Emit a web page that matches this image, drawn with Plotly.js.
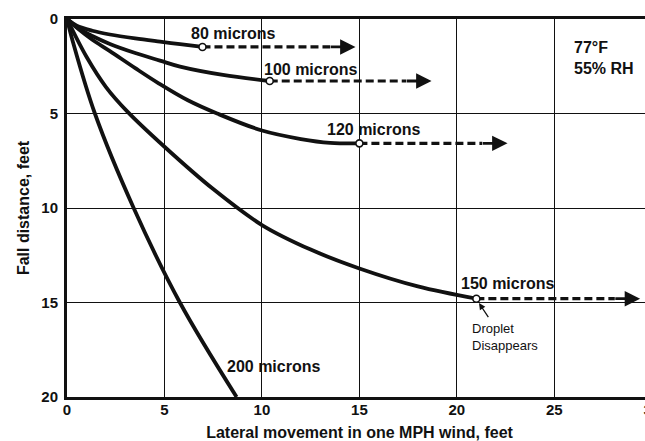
<!DOCTYPE html>
<html><head><meta charset="utf-8">
<script src="https://cdn.plot.ly/plotly-3.0.1.min.js"></script>
<style>html,body{margin:0;padding:0;overflow:hidden;background:#fff;width:645px;height:441px}</style>
</head><body><div id="chart" style="width:660px;height:441px"></div>
<script>
// Lateral movement (ft) vs fall distance (ft) for each droplet size
const x80  = [0, 0.5, 1.3, 2.2, 3.5, 4.77, 5.8, 6.95];
const y80  = [0, 0.35, 0.62, 0.82, 1.03, 1.2, 1.33, 1.48];
const x100 = [0, 0.6, 1.3, 2.2, 3.5, 4.77, 5.8, 8, 10.4];
const y100 = [0, 0.5, 0.9, 1.32, 1.8, 2.2, 2.52, 2.96, 3.28];
const x120 = [0, 0.6, 1.3, 2.2, 3.5, 4.7, 6.2, 7.7, 10, 12, 13.5, 15];
const y120 = [0, 0.55, 1.1, 1.7, 2.6, 3.4, 4.3, 5, 5.9, 6.35, 6.55, 6.58];
const x150 = [0, 1, 2, 3.1, 5, 7.5, 10, 12.5, 15, 18, 21];
const y150 = [0, 2.0, 3.6, 4.9, 6.76, 9.0, 10.9, 12.2, 13.2, 14.15, 14.8];
const x200 = [0, 0.3, 1.43, 3.42, 5.79, 8.7];
const y200 = [0, 1.2, 5, 10, 15, 20];

// where the drift (dashed) arrows end, for 80, 100, 120, 150 microns
const arrowEnd = [14.8, 18.7, 22.6, 29.4];

const labels = ['80 microns', '100 microns', '120 microns', '150 microns', '200 microns'];
const labelX = [8.56, 12.5, 15.7, 22.6, 10.6];
const labelY = [0.79, 2.65, 5.87, 13.97, 18.4];

const xTicks = [0, 5, 10, 15, 20, 25, 30];
const yTicks = [0, 5, 10, 15, 20];

const FONT = '"Liberation Sans", Arial, Helvetica, sans-serif';
const INK = '#111';

const curvesX = [x80, x100, x120, x150, x200];
const curvesY = [y80, y100, y120, y150, y200];

const traces = [];
curvesX.forEach((xs, i) => {
  traces.push({
    x: xs, y: curvesY[i], type: 'scatter', mode: 'lines',
    line: {color: INK, width: 3.8, shape: 'spline', smoothing: 1},
    hoverinfo: 'skip', showlegend: false
  });
});

const annotations = [];
const headLen = 1.3;
arrowEnd.forEach((xe, i) => {
  const xs = curvesX[i], ys = curvesY[i];
  const xc = xs[xs.length - 1], yc = ys[ys.length - 1];
  traces.push({
    x: [xc, xe - headLen], y: [yc, yc], type: 'scatter', mode: 'lines',
    line: {color: INK, width: 3.2, dash: '8px,4px'},
    hoverinfo: 'skip', showlegend: false
  });
  annotations.push({
    x: xe, y: yc, ax: xe - headLen - 0.05, ay: yc,
    xref: 'x', yref: 'y', axref: 'x', ayref: 'y',
    text: '', showarrow: true, arrowhead: 2, arrowsize: 1.1,
    arrowwidth: 2.8, arrowcolor: INK, standoff: 0, startstandoff: 0
  });
});

// open circles where the droplet evaporates
traces.push({
  x: [0, 1, 2, 3].map(i => curvesX[i][curvesX[i].length - 1]),
  y: [0, 1, 2, 3].map(i => curvesY[i][curvesY[i].length - 1]),
  type: 'scatter', mode: 'markers',
  marker: {size: 7, color: '#fff', line: {color: INK, width: 1.6}},
  hoverinfo: 'skip', showlegend: false
});

labels.forEach((t, i) => {
  annotations.push({
    x: labelX[i], y: labelY[i], xref: 'x', yref: 'y', text: t,
    showarrow: false, font: {family: FONT, size: 16, color: INK, weight: 'bold'}
  });
});

annotations.push({
  x: 25.9, y: 1.53, xref: 'x', yref: 'y', text: '77°F', xanchor: 'left',
  showarrow: false, font: {family: FONT, size: 16, color: INK, weight: 'bold'}
});
annotations.push({
  x: 25.9, y: 2.6, xref: 'x', yref: 'y', text: '55% RH', xanchor: 'left',
  showarrow: false, font: {family: FONT, size: 16, color: INK, weight: 'bold'}
});
annotations.push({
  x: 20.67, y: 16.8, xref: 'x', yref: 'y', text: 'Droplet<br>Disappears', xanchor: 'left',
  align: 'left', showarrow: false, font: {family: FONT, size: 13, color: INK}
});
// pointer to the 150 micron circle
annotations.push({
  x: x150[x150.length - 1] + 0.05, y: y150[y150.length - 1] + 0.1, xref: 'x', yref: 'y',
  ax: 12, ay: 18, text: '', showarrow: true, arrowhead: 2, arrowsize: 1,
  arrowwidth: 1.3, arrowcolor: INK, standoff: 3
});

const layout = {
  width: 660, height: 441,
  margin: {l: 67, r: 8, t: 19, b: 44},
  paper_bgcolor: '#fff', plot_bgcolor: '#fff',
  font: {family: FONT, color: INK},
  showlegend: false,
  xaxis: {
    range: [0, 30.01], tickvals: xTicks, ticktext: xTicks.map(String),
    showgrid: true, gridcolor: INK, gridwidth: 1,
    zeroline: false, showline: true, linecolor: INK, linewidth: 3, mirror: true,
    ticks: '', ticklabelstandoff: -3, ticklabeloverflow: 'allow',
    tickfont: {family: FONT, size: 15, color: INK, weight: 'bold'},
    title: {text: 'Lateral movement in one MPH wind, feet', standoff: 13,
            font: {family: FONT, size: 16, color: INK, weight: 'bold'}},
    fixedrange: true
  },
  yaxis: {
    range: [20, 0], tickvals: yTicks, ticktext: yTicks.map(String),
    showgrid: true, gridcolor: INK, gridwidth: 1,
    zeroline: false, showline: true, linecolor: INK, linewidth: 3,
    ticks: '', ticklabelstandoff: 3,
    tickfont: {family: FONT, size: 15, color: INK, weight: 'bold'},
    title: {text: 'Fall distance, feet', standoff: 8,
            font: {family: FONT, size: 16, color: INK, weight: 'bold'}},
    fixedrange: true
  },
  annotations: annotations
};

Plotly.newPlot('chart', traces, layout, {displayModeBar: false, staticPlot: true});
</script>
</body></html>
